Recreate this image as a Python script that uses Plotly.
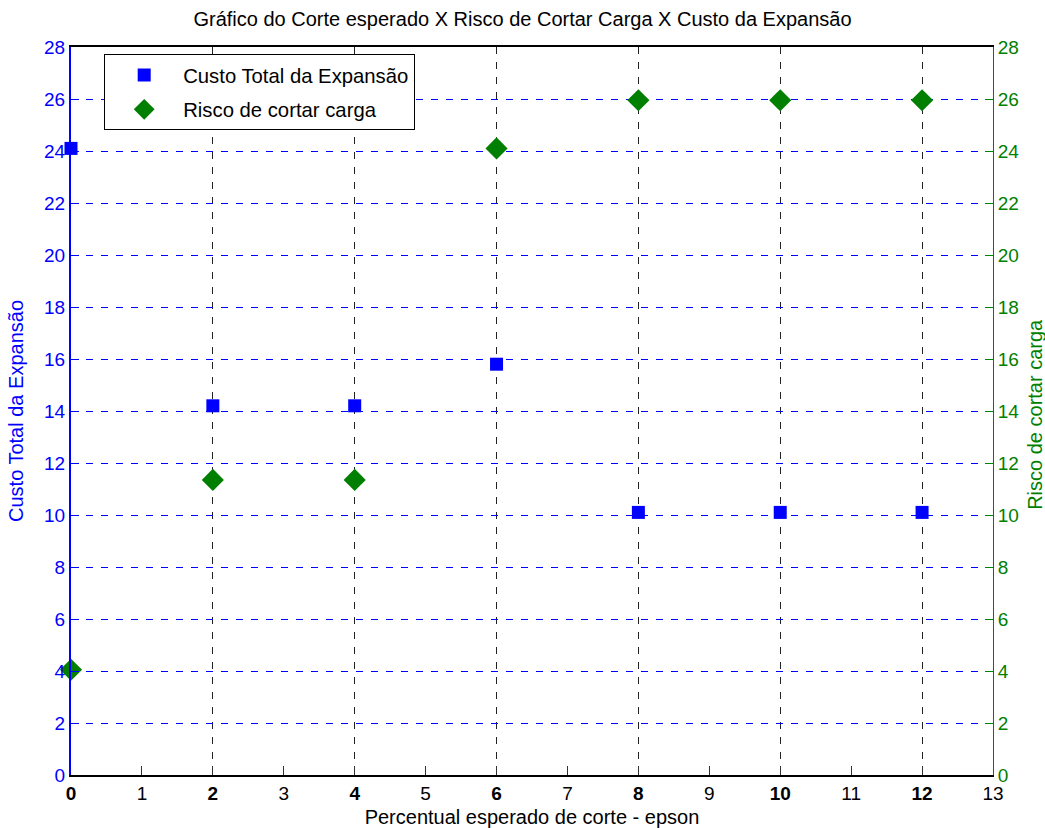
import plotly.graph_objects as go

x_vals = [0, 2, 4, 6, 8, 10, 12]
custo = [24.1, 14.2, 14.2, 15.8, 10.1, 10.1, 10.1]
risco = [4.05, 11.35, 11.35, 24.1, 25.95, 25.95, 25.95]

x_ticks = list(range(0, 14))
x_ticktext = [f"<b>{v}</b>" if v % 2 == 0 and v < 13 else str(v) for v in x_ticks]
y_ticks = list(range(0, 29, 2))

FONT = "Liberation Sans, Arial, sans-serif"
BLUE = "#0000ff"
GREEN = "#007f00"
DASH = "7px,8px"

fig = go.Figure()
fig.add_trace(go.Scatter(
    x=x_vals, y=custo, mode="markers", name="Custo Total da Expansão",
    marker=dict(symbol="square", size=13, color=BLUE), cliponaxis=False,
    legendgroup="a",
))
fig.add_trace(go.Scatter(
    x=x_vals, y=risco, mode="markers", name="Risco de cortar carga",
    marker=dict(symbol="diamond", size=17, color=GREEN), yaxis="y2", cliponaxis=False,
    legendgroup="b",
))

fig.update_layout(
    width=1045, height=828,
    margin=dict(l=71, r=52, t=47, b=53),
    paper_bgcolor="white", plot_bgcolor="white",
    font=dict(family=FONT, size=19, color="black"),
    title=dict(text="Gráfico do Corte esperado X Risco de Cortar Carga X Custo da Expansão",
               x=0.5, xanchor="center", y=0.985, yanchor="top",
               font=dict(size=20, color="black")),
    showlegend=True,
    legend=dict(x=0.036, y=0.99, xanchor="left", yanchor="top",
                bordercolor="black", borderwidth=1, bgcolor="white",
                font=dict(size=20.3, color="black"), itemwidth=68,
                traceorder="grouped", tracegroupgap=5),
    xaxis=dict(
        range=[0, 13], tickmode="array", tickvals=x_ticks, ticktext=x_ticktext,
        ticks="inside", ticklen=9, tickcolor="#333333", tickwidth=1,
        showline=True, linecolor="black", linewidth=2, mirror=True,
        showgrid=False, zeroline=False, automargin=False,
        tickfont=dict(size=19, color="black"),
        title=dict(text="Percentual esperado de corte - epson",
                   font=dict(size=20, color="black")),
        minor=dict(tickmode="array", tickvals=[2, 4, 6, 8, 10, 12], ticks="",
                   showgrid=True, gridcolor="#222222", griddash=DASH, gridwidth=1),
    ),
    yaxis=dict(
        range=[0, 28], tickmode="array", tickvals=y_ticks,
        ticks="inside", ticklen=8, tickcolor=BLUE,
        showline=True, linecolor=BLUE, linewidth=2,
        showgrid=True, gridcolor=BLUE, griddash=DASH, gridwidth=1,
        zeroline=False, automargin=False, tickfont=dict(size=19, color=BLUE),
        title=dict(text="Custo Total da Expansão", font=dict(size=20, color=BLUE)),
    ),
    yaxis2=dict(
        range=[0, 28], tickmode="array", tickvals=y_ticks, overlaying="y", side="right",
        ticks="inside", ticklen=8, tickcolor=GREEN,
        showline=True, linecolor=GREEN, linewidth=1,
        showgrid=False, zeroline=False, automargin=False,
        tickfont=dict(size=19, color=GREEN),
    ),
    annotations=[dict(
        text="Risco de cortar carga", xref="paper", yref="paper",
        x=1.0455, y=0.496, xanchor="center", yanchor="middle", textangle=-90,
        showarrow=False, font=dict(size=20, color=GREEN),
    )],
)

fig.write_html("out.html", config={"displayModeBar": False},
               post_script="document.body.style.margin='0';document.body.style.overflow='hidden';")
